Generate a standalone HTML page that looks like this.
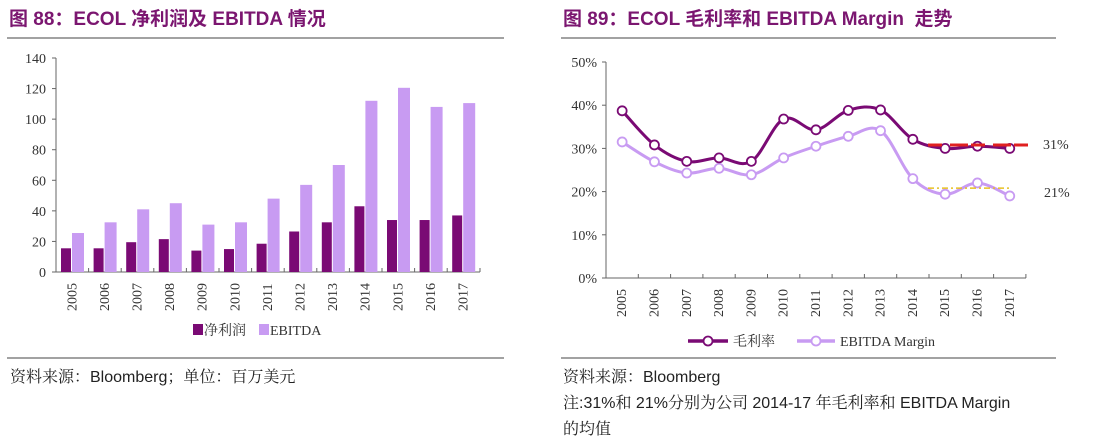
<!DOCTYPE html>
<html><head><meta charset="utf-8"><style>
body{margin:0;width:1093px;height:443px;background:#fff;overflow:hidden;font-family:"Liberation Serif","Noto Serif CJK SC",serif;}
.t{position:absolute;font-family:"Liberation Sans","Noto Sans CJK SC",sans-serif;font-weight:bold;color:#7b1670;font-size:19px;top:4px;white-space:nowrap}
.f{position:absolute;font-family:"Liberation Sans","Noto Serif CJK SC",sans-serif;color:#222;font-size:16px;white-space:nowrap}
</style></head><body>
<div class="t" style="left:9px">图 88：ECOL 净利润及 EBITDA 情况</div>
<div class="t" style="left:563px">图 89：ECOL 毛利率和 EBITDA Margin&nbsp; 走势</div>
<div class="f" style="left:10px;top:364px">资料来源：Bloomberg；单位：百万美元</div>
<div class="f" style="left:563px;top:364px">资料来源：Bloomberg</div>
<div class="f" style="left:563px;top:390px">注:31%和 21%分别为公司 2014-17 年毛利率和 EBITDA Margin</div>
<div class="f" style="left:563px;top:416px">的均值</div>
<svg id="s" width="1093" height="443" style="position:absolute;left:0;top:0"></svg>
<script>
var s='';
function L(x1,y1,x2,y2,c,w){s+=`<line x1="${x1}" y1="${y1}" x2="${x2}" y2="${y2}" stroke="${c}" stroke-width="${w||1}"/>`;}
function T(x,y,t,a,ex){s+=`<text x="${x}" y="${y}" font-size="14" fill="#333" text-anchor="${a||'start'}" ${ex||''}>${t}</text>`;}
L(7,38,504,38,'#444');L(7,358,504,358,'#444');
L(561,38,1056,38,'#444');L(561,358,1056,358,'#444');
var np=[15.5,15.5,19.5,21.5,14,15,18.5,26.5,32.5,43,34,34,37];
var eb=[25.5,32.5,41,45,31,32.5,48,57,70,112,120.5,108,110.5];
var y0=272,k=214/140,x0=56,w=32.6;
for(var i=0;i<=7;i++){var y=y0-i*20*k;L(52,y,56,y,'#666');T(46,y+5,i*20,'end');}
L(56,58,56,272,'#666');L(56,272,480,272,'#666');
for(var i=0;i<13;i++){var cx=x0+w*i;L(cx,272,cx,268,'#666');
s+=`<rect x="${cx+5}" y="${y0-np[i]*k}" width="10" height="${np[i]*k}" fill="#7a0a74"/>`;
s+=`<rect x="${cx+16}" y="${y0-eb[i]*k}" width="12" height="${eb[i]*k}" fill="#c89bf2"/>`;
var tx=cx+w/2+4;T(tx,311,2005+i,'start',`transform="rotate(-90 ${tx} 311)"`);}
L(480,272,480,268,'#666');
s+=`<rect x="193" y="324" width="10" height="11" fill="#7a0a74"/>`;T(204,335,'净利润');
s+=`<rect x="259" y="324" width="10" height="11" fill="#c89bf2"/>`;T(270,335,'EBITDA');
var g=[38.7,30.8,27,27.8,27,36.8,34.3,38.8,38.9,32.1,30,30.5,30];
var e=[31.5,26.9,24.3,25.4,23.9,27.8,30.5,32.8,34.1,23,19.4,22,19];
var Y0=278,K=4.32,X0=606,W=32.3;
for(var i=0;i<=5;i++){var y=Y0-i*10*K;L(602,y,606,y,'#666');T(597,y+5,i*10+'%','end');}
L(606,62,606,278,'#666');L(606,278,1026,278,'#666');
for(var i=0;i<=13;i++){L(X0+W*i,278,X0+W*i,274,'#666');}
for(var i=0;i<13;i++){var tx=X0+W*i+W/2+4;T(tx,317,2005+i,'start',`transform="rotate(-90 ${tx} 317)"`);}
function path(d){var p=d.map((v,i)=>[X0+W*i+W/2,Y0-v*K]);var r='M'+p[0];for(var i=0;i<p.length-1;i++){var a=p[i-1]||p[i],b=p[i],c=p[i+1],dd=p[i+2]||c;var t=0.17;r+=` C${b[0]+(c[0]-a[0])*t},${b[1]+(c[1]-a[1])*t} ${c[0]-(dd[0]-b[0])*t},${c[1]-(dd[1]-b[1])*t} ${c[0]},${c[1]}`;}return [r,p];}
function series(d,c){var [r,p]=path(d);s+=`<path d="${r}" fill="none" stroke="${c}" stroke-width="3"/>`;p.forEach(q=>{s+=`<circle cx="${q[0]}" cy="${q[1]}" r="4.5" fill="#fff" stroke="${c}" stroke-width="1.8"/>`;});}
series(e,'#c89bf2');
s+=`<line x1="928" y1="${Y0-20.8*K}" x2="1010" y2="${Y0-20.8*K}" stroke="#e8c020" stroke-width="1.5" stroke-dasharray="6,3,2,3"/>`;
series(g,'#7a0a74');
s+=`<line x1="928" y1="${Y0-30.8*K}" x2="1030" y2="${Y0-30.8*K}" stroke="#e02020" stroke-width="3" stroke-dasharray="14,8,18,3"/>`;
T(1043,149,'31%');T(1044,197,'21%');
L(688,341,728,341,'#7a0a74',3.5);s+=`<circle cx="708" cy="341" r="4.5" fill="#fff" stroke="#7a0a74" stroke-width="1.8"/>`;T(733,346,'毛利率');
L(797,341,835,341,'#c89bf2',3.5);s+=`<circle cx="816" cy="341" r="4.5" fill="#fff" stroke="#c89bf2" stroke-width="1.8"/>`;T(840,346,'EBITDA Margin');
document.getElementById('s').innerHTML=s;
</script>
</body></html>
